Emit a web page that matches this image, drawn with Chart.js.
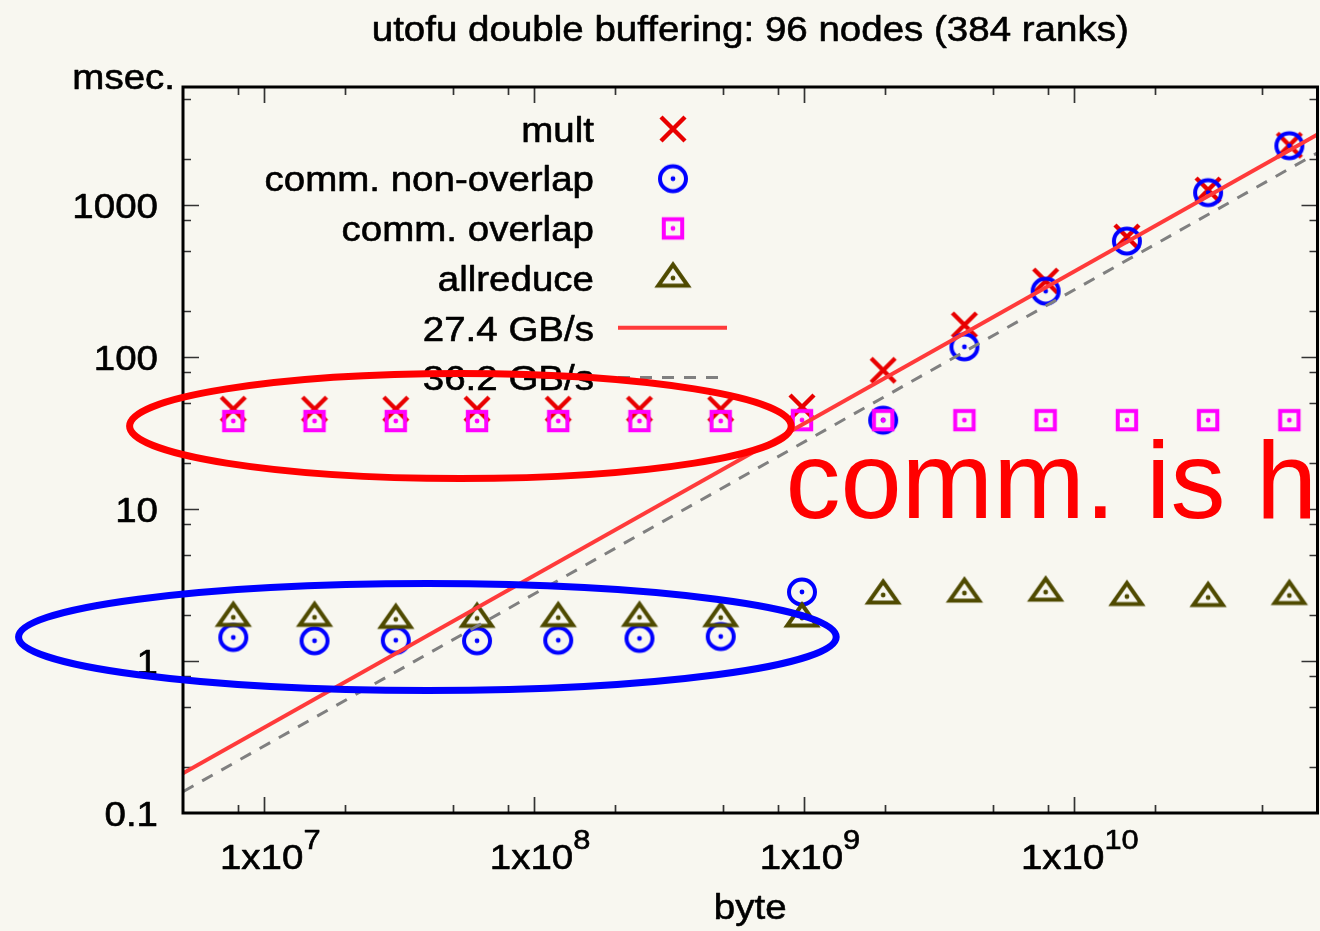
<!DOCTYPE html>
<html>
<head>
<meta charset="utf-8">
<title>utofu double buffering: 96 nodes (384 ranks)</title>
<script src="https://cdn.jsdelivr.net/npm/chart.js@4.4.1/dist/chart.umd.min.js"></script>
<style>
  html, body { margin: 0; padding: 0; background: #f8f7f0; }
  canvas { display: block; }
</style>
</head>
<body>
<canvas id="chart" width="1320" height="931"></canvas>
<script>
// ---- measured data (message size in bytes, time in msec.) ----
const bytes = [7.68e6, 1.536e7, 3.072e7, 6.144e7, 1.2288e8, 2.4576e8, 4.9152e8,
               9.8304e8, 1.96608e9, 3.93216e9, 7.86432e9, 1.572864e10, 3.145728e10, 6.291456e10];
const multMs           = [45.5, 45.5, 45.5, 45.5, 45.5, 45.5, 45.5, 47, 82, 163, 317, 618, 1260, 2480];
const commNonOverlapMs = [1.43, 1.36, 1.37, 1.36, 1.37, 1.41, 1.45, 2.85, 38.5, 117, 272, 581, 1210, 2464];
const commOverlapMs    = [38, 38, 38, 38, 38, 38, 38, 38.5, 38.5, 38.5, 38.5, 38.5, 38.5, 38.5];
const allreduceMs      = [1.94, 1.94, 1.88, 1.91, 1.93, 1.94, 1.93, 1.92, 2.72, 2.80, 2.84, 2.66, 2.62, 2.70];

// reference bandwidth lines (GB/s)
const bandwidthGBs = [27.4, 36.2];

// axis ranges and ticks
const xRange = [5e6, 8e10];
const yRange = [0.1, 6000];
const xTickExponents = [7, 8, 9, 10];
const yTickValues = [0.1, 1, 10, 100, 1000];
const yTickLabels = ['0.1', '1', '10', '100', '1000'];
const minorMantissas = [2, 5, 8];

// highlighted regions (data coordinates) and callout
const highlightRegions = [
  { x: [3.17e6, 8.97e8], y: [15.9, 78.1], color: '#ff0000' },
  { x: [1.229e6, 1.317e9], y: [0.64, 3.24], color: '#0000ff' }
];
const callout = { text: 'comm. is hidden', x: 8.54e8, y: 8.8 };

const FONT = "'Liberation Sans', Arial, Helvetica, sans-serif";
const TEXT_SIZE = 35;
const TEXT_SX = 1.1;

const RED = '#e80000', BLUE = '#0000ff', MAGENTA = '#ff00ff', OLIVE = '#4f4a00';

function makeMarker(kind, color) {
  const c = document.createElement('canvas');
  c.width = 46; c.height = 46;
  const g = c.getContext('2d');
  const cx = 23, cy = 23;
  g.strokeStyle = color; g.fillStyle = color; g.lineWidth = 4;
  if (kind === 'cross') {
    g.lineWidth = 4.4;
    g.beginPath();
    g.moveTo(cx - 12, cy - 12); g.lineTo(cx + 12, cy + 12);
    g.moveTo(cx + 12, cy - 12); g.lineTo(cx - 12, cy + 12);
    g.stroke();
    return c;
  }
  if (kind === 'circle') {
    g.beginPath(); g.ellipse(cx, cy, 13, 12.4, 0, 0, Math.PI * 2); g.stroke();
  } else if (kind === 'square') {
    g.strokeRect(cx - 9.2, cy - 9.2, 18.4, 18.4);
  } else if (kind === 'triangle') {
    g.lineJoin = 'miter';
    g.beginPath();
    g.moveTo(cx, cy - 13.5); g.lineTo(cx + 14.8, cy + 7.5); g.lineTo(cx - 14.8, cy + 7.5);
    g.closePath(); g.stroke();
  }
  g.beginPath(); g.arc(cx, cy, 2.4, 0, Math.PI * 2); g.fill();
  return c;
}

const points = (vals) => bytes.map((b, i) => ({ x: b, y: vals[i] }));
const bandwidthLine = (gbs) => xRange.map(b => ({ x: b, y: b / (gbs * 1e6) }));

function stretchText(ctx, text, x, y, size, sx, align, color, weight) {
  ctx.save();
  ctx.font = size + 'px ' + FONT;
  ctx.fillStyle = color;
  ctx.strokeStyle = color;
  ctx.textBaseline = 'alphabetic';
  ctx.textAlign = 'left';
  const w = ctx.measureText(text).width * sx;
  const x0 = align === 'right' ? x - w : align === 'center' ? x - w / 2 : x;
  ctx.translate(x0, y);
  ctx.scale(sx, 1);
  ctx.fillText(text, 0, 0);
  if (weight) {
    ctx.lineWidth = weight;
    ctx.lineJoin = 'round';
    ctx.strokeText(text, 0, 0);
  }
  ctx.restore();
  return w;
}

const decor = {
  id: 'decor',
  beforeDraw(chart) {
    const ctx = chart.ctx;
    ctx.save();
    ctx.fillStyle = '#f8f7f0';
    ctx.fillRect(0, 0, chart.width, chart.height);
    ctx.restore();
  },
  beforeDatasetsDraw(chart) {
    const { ctx, chartArea: ca, scales: { x: xs, y: ys } } = chart;
    ctx.save();
    ctx.strokeStyle = '#333333';
    ctx.lineWidth = 1.7;
    ctx.beginPath();
    for (let e = Math.floor(Math.log10(xRange[0])); e <= Math.ceil(Math.log10(xRange[1])); e++) {
      for (const m of [1].concat(minorMantissas)) {
        const v = m * Math.pow(10, e);
        if (v <= xRange[0] * 1.0001 || v >= xRange[1] * 0.9999) continue;
        const px = Math.round(xs.getPixelForValue(v)) + 0.5;
        const len = m === 1 ? 16 : 8;
        ctx.moveTo(px, ca.bottom); ctx.lineTo(px, ca.bottom - len);
        ctx.moveTo(px, ca.top); ctx.lineTo(px, ca.top + len);
      }
    }
    for (let e = Math.floor(Math.log10(yRange[0])); e <= Math.ceil(Math.log10(yRange[1])); e++) {
      for (const m of [1].concat(minorMantissas)) {
        const v = m * Math.pow(10, e);
        if (v <= yRange[0] * 1.0001 || v >= yRange[1] * 0.9999) continue;
        const py = Math.round(ys.getPixelForValue(v)) + 0.5;
        const len = m === 1 ? 16 : 8;
        ctx.moveTo(ca.left, py); ctx.lineTo(ca.left + len, py);
        ctx.moveTo(ca.right, py); ctx.lineTo(ca.right - len, py);
      }
    }
    ctx.stroke();
    ctx.restore();
  },
  afterDatasetsDraw(chart) {
    const { ctx, chartArea: ca } = chart;
    ctx.save();
    ctx.strokeStyle = '#000';
    ctx.lineWidth = 3;
    ctx.strokeRect(ca.left, ca.top, ca.right - ca.left, ca.bottom - ca.top);
    ctx.restore();
  },
  afterDraw(chart) {
    const { ctx, chartArea: ca, scales: { x: xs, y: ys } } = chart;
    const midX = (ca.left + ca.right) / 2;
    const W = 0.6;

    // title and axis labels
    stretchText(ctx, 'utofu double buffering: 96 nodes (384 ranks)', midX, 41, TEXT_SIZE, TEXT_SX, 'center', '#000', W);
    stretchText(ctx, 'msec.', ca.left - 8, ca.top + 2, TEXT_SIZE, TEXT_SX, 'right', '#000', W);
    stretchText(ctx, 'byte', midX, 919, TEXT_SIZE, TEXT_SX, 'center', '#000', W);

    // y tick labels
    yTickValues.forEach((v, i) => {
      const py = ys.getPixelForValue(v);
      stretchText(ctx, yTickLabels[i], ca.left - 25, py + 12.5, TEXT_SIZE, TEXT_SX, 'right', '#000', W);
    });

    // x tick labels: 1x10^n
    const supSize = TEXT_SIZE * 0.8;
    xTickExponents.forEach(e => {
      const px = xs.getPixelForValue(Math.pow(10, e));
      ctx.save();
      ctx.font = TEXT_SIZE + 'px ' + FONT;
      const wBase = ctx.measureText('1x10').width * TEXT_SX;
      ctx.font = supSize + 'px ' + FONT;
      const wSup = ctx.measureText(String(e)).width * TEXT_SX;
      ctx.restore();
      const x0 = px + 6 - (wBase + wSup) / 2;
      const base = ca.bottom + 55.5;
      stretchText(ctx, '1x10', x0, base, TEXT_SIZE, TEXT_SX, 'left', '#000', W);
      stretchText(ctx, String(e), x0 + wBase, base - 20, supSize, TEXT_SX, 'left', '#000', W);
    });

    // key
    const textRight = ca.left + 411;
    const sampleX = ca.left + 490;
    const lineFrom = ca.left + 435, lineTo = ca.left + 544;
    const rowY0 = ca.top + 42, rowStep = 49.7;
    chart.data.datasets.forEach((ds, i) => {
      const y = rowY0 + i * rowStep;
      stretchText(ctx, ds.label, textRight, y + 12.7, TEXT_SIZE, TEXT_SX, 'right', '#000', W);
      if (ds.showLine) {
        ctx.save();
        ctx.strokeStyle = ds.borderColor;
        ctx.lineWidth = ds.borderWidth;
        ctx.setLineDash(ds.borderDash || []);
        ctx.beginPath();
        ctx.moveTo(lineFrom, y); ctx.lineTo(lineTo, y);
        ctx.stroke();
        ctx.restore();
      } else {
        const img = ds.pointStyle;
        ctx.drawImage(img, sampleX - img.width / 2, y - img.height / 2);
      }
    });

    // highlighted regions
    highlightRegions.forEach(r => {
      const x1 = xs.getPixelForValue(r.x[0]), x2 = xs.getPixelForValue(r.x[1]);
      const y1 = ys.getPixelForValue(r.y[1]), y2 = ys.getPixelForValue(r.y[0]);
      ctx.save();
      ctx.strokeStyle = r.color;
      ctx.lineWidth = 7;
      ctx.beginPath();
      ctx.ellipse((x1 + x2) / 2, (y1 + y2) / 2, (x2 - x1) / 2, (y2 - y1) / 2, 0, 0, Math.PI * 2);
      ctx.stroke();
      ctx.restore();
    });

    // callout
    stretchText(ctx, callout.text, xs.getPixelForValue(callout.x), ys.getPixelForValue(callout.y),
                110, 1.0, 'left', '#ff0000');
  }
};

new Chart(document.getElementById('chart'), {
  type: 'scatter',
  data: {
    datasets: [
      { label: 'mult', data: points(multMs), pointStyle: makeMarker('cross', RED),
        pointRadius: 12, showLine: false, order: 4 },
      { label: 'comm. non-overlap', data: points(commNonOverlapMs), pointStyle: makeMarker('circle', BLUE),
        pointRadius: 12, showLine: false, order: 3 },
      { label: 'comm. overlap', data: points(commOverlapMs), pointStyle: makeMarker('square', MAGENTA),
        pointRadius: 12, showLine: false, order: 2 },
      { label: 'allreduce', data: points(allreduceMs), pointStyle: makeMarker('triangle', OLIVE),
        pointRadius: 12, showLine: false, order: 1 },
      { label: bandwidthGBs[0] + ' GB/s', data: bandwidthLine(bandwidthGBs[0]), showLine: true,
        borderColor: '#ff3a3a', borderWidth: 4, pointRadius: 0, order: 0 },
      { label: bandwidthGBs[1] + ' GB/s', data: bandwidthLine(bandwidthGBs[1]), showLine: true,
        borderColor: '#808080', borderWidth: 3, borderDash: [12, 10], pointRadius: 0, order: 0 }
    ]
  },
  options: {
    responsive: false,
    devicePixelRatio: 1,
    animation: false,
    events: [],
    layout: { autoPadding: false, padding: { left: 183, top: 87, right: 2.5, bottom: 118 } },
    plugins: { legend: { display: false }, tooltip: { enabled: false }, title: { display: false } },
    scales: {
      x: { type: 'logarithmic', display: false, min: xRange[0], max: xRange[1] },
      y: { type: 'logarithmic', display: false, min: yRange[0], max: yRange[1] }
    }
  },
  plugins: [decor]
});
</script>
</body>
</html>
